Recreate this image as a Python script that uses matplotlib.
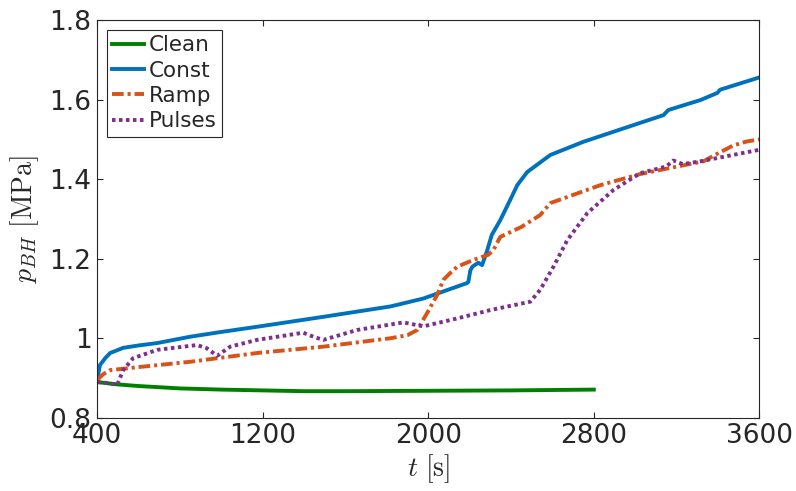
import numpy as np
import matplotlib
matplotlib.use("Agg")
import matplotlib.pyplot as plt

plt.rcParams['font.family'] = ['DejaVu Sans']
plt.rcParams['mathtext.fontset'] = 'cm'

# bottom-hole pressure [MPa] vs time [s] for each control strategy
t_clean = [400, 450, 500, 600, 700, 800, 1000, 1200, 1400, 1600, 2000, 2400, 2800]
p_clean = [0.890, 0.887, 0.884, 0.880, 0.877, 0.874, 0.871, 0.869, 0.867, 0.867, 0.868, 0.869, 0.871]

t_const = [400, 414, 439, 463, 526, 600, 690, 850, 1000, 1173, 1493, 1816, 1865, 1976, 2025,
           2188, 2194, 2203, 2213, 2242, 2260, 2283, 2307, 2348, 2396, 2430, 2478, 2590, 2749,
           2991, 3136, 3160, 3315, 3397, 3410, 3600]
p_const = [0.895, 0.933, 0.950, 0.963, 0.976, 0.982, 0.988, 1.004, 1.016, 1.029, 1.054, 1.080,
           1.086, 1.100, 1.109, 1.139, 1.142, 1.170, 1.180, 1.190, 1.184, 1.218, 1.260, 1.297,
           1.348, 1.385, 1.418, 1.461, 1.494, 1.536, 1.561, 1.574, 1.599, 1.617, 1.625, 1.656]

t_ramp = [400, 430, 463, 608, 850, 1173, 1493, 1816, 1900, 1947, 1995, 2043, 2073, 2106, 2140,
          2218, 2290, 2315, 2348, 2450, 2541, 2590, 2831, 3024, 3281, 3330, 3400, 3474, 3540, 3600]
p_ramp = [0.895, 0.910, 0.920, 0.928, 0.941, 0.963, 0.979, 1.000, 1.008, 1.021, 1.064, 1.109,
          1.147, 1.164, 1.180, 1.197, 1.210, 1.222, 1.255, 1.280, 1.310, 1.340, 1.385, 1.413,
          1.440, 1.445, 1.465, 1.485, 1.495, 1.500]

t_pulse = [400, 440, 497, 526, 574, 690, 883, 930, 980, 1043, 1173, 1396, 1450, 1493, 1657,
           1880, 1976, 2140, 2300, 2493, 2541, 2605, 2672, 2769, 2895, 3024, 3150, 3184, 3230,
           3315, 3590, 3600]
p_pulse = [0.890, 0.888, 0.883, 0.920, 0.950, 0.971, 0.983, 0.975, 0.956, 0.979, 0.996, 1.014,
           1.003, 0.996, 1.021, 1.040, 1.030, 1.050, 1.071, 1.092, 1.122, 1.180, 1.247, 1.315,
           1.373, 1.415, 1.432, 1.447, 1.438, 1.445, 1.473, 1.474]

xticks = [400, 1200, 2000, 2800, 3600]
yticks = [0.8, 1.0, 1.2, 1.4, 1.6, 1.8]
ytick_labels = ['0.8', '1', '1.2', '1.4', '1.6', '1.8']

fig = plt.figure(figsize=(7.96, 4.91), dpi=100)
ax = fig.add_axes([0.122, 0.149, 0.832, 0.810])

lw = 2.8
ax.plot(t_clean, p_clean, color='#008000', lw=lw, label='Clean')
ax.plot(t_const, p_const, color='#0072BD', lw=lw, label='Const')
ax.plot(t_ramp, p_ramp, color='#D95319', lw=lw, dashes=(3, 1, 0.8, 1), label='Ramp')
ax.plot(t_pulse, p_pulse, color='#7E2F8E', lw=lw, dashes=(0.9, 0.9), label='Pulses')

ax.set_xlim(400, 3600)
ax.set_ylim(0.8, 1.8)
ax.set_xticks(xticks)
ax.set_yticks(yticks)
ax.set_yticklabels(ytick_labels)

edge = '#262626'
for s in ax.spines.values():
    s.set_color(edge)
    s.set_linewidth(0.8)
ax.tick_params(direction='in', length=4, width=0.8, colors=edge, labelsize=19,
               top=True, right=True, pad=4)

ax.set_xlabel(r'$t\ [\mathrm{s}]$', fontsize=20, color=edge, labelpad=2)
ax.set_ylabel(r'$p_{BH}\ [\mathrm{MPa}]$', fontsize=20, color=edge, labelpad=6)

leg = ax.legend(loc='upper left', fontsize=15.5, handlelength=1.5, handletextpad=0.2,
                borderpad=0.25, labelspacing=0.25, borderaxespad=0.45, fancybox=False,
                framealpha=1)
leg.get_frame().set_edgecolor(edge)
leg.get_frame().set_linewidth(0.8)
for txt in leg.get_texts():
    txt.set_color(edge)

fig.savefig('out.png', dpi=100)
